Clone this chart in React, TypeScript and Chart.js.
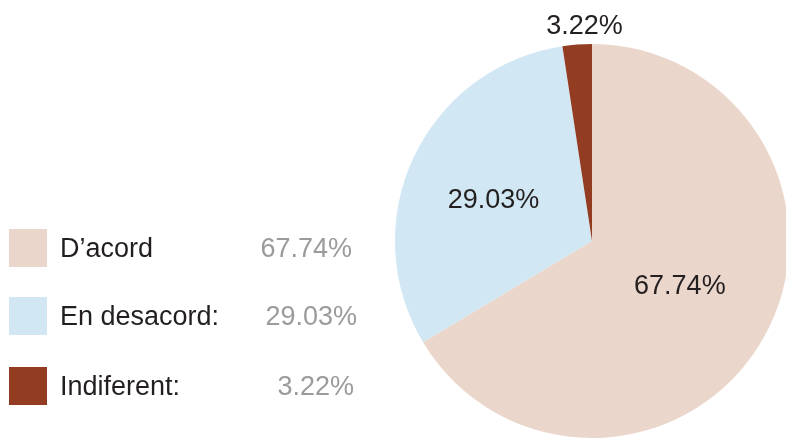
import React, { useEffect, useRef } from "react";
import { Chart, registerables } from "chart.js";

Chart.register(...registerables);

const categories = ["D\u2019acord", "En desacord:", "Indiferent:"];
const legendNames = ["D\u2019acord", "En desacord:", "Indiferent:"];
// slice sizes as drawn in the picture
const values = [66.4, 31.2, 2.4];
// labels as printed in the picture
const valueLabels = ["67.74%", "29.03%", "3.22%"];
const colors = ["#EBD6CC", "#D1E7F3", "#923C22"];

const FONT = "27px 'Liberation Sans', Arial, sans-serif";

const labelPlugin = {
  id: "customLabels",
  afterDraw(chart: any) {
    const ctx = chart.ctx;
    const meta = chart.getDatasetMeta(0);
    const nudge = [
      [-3, -6],
      [-4, 4],
      [0, 2],
    ];
    ctx.save();
    ctx.font = FONT;
    ctx.textAlign = "center";
    ctx.textBaseline = "middle";
    ctx.fillStyle = "#231F20";
    meta.data.forEach((arc: any, i: number) => {
      const { x, y, startAngle, endAngle, outerRadius } = arc.getProps(
        ["x", "y", "startAngle", "endAngle", "outerRadius"],
        true
      );
      const mid = (startAngle + endAngle) / 2;
      const frac = (endAngle - startAngle) / (Math.PI * 2);
      let lx: number, ly: number;
      if (frac < 0.08) {
        lx = x + Math.cos(mid) * outerRadius * 0.5;
        ly = y + Math.sin(mid) * (outerRadius + 20);
      } else {
        lx = x + Math.cos(mid) * outerRadius * 0.53;
        ly = y + Math.sin(mid) * outerRadius * 0.53;
      }
      ctx.fillText(valueLabels[i], lx + nudge[i][0], ly + nudge[i][1]);
    });

    // legend
    const rowCenters = [248, 316, 386];
    const valueRight = [352, 357, 354];
    const sq = 38;
    chart.data.labels.forEach((_: any, i: number) => {
      const cy = rowCenters[i];
      ctx.fillStyle = colors[i];
      ctx.fillRect(9, cy - sq / 2, sq, sq);
      ctx.textAlign = "left";
      ctx.fillStyle = "#231F20";
      ctx.fillText(legendNames[i], 60, cy + 2);
      ctx.textAlign = "right";
      ctx.fillStyle = "#9B9B9B";
      ctx.fillText(valueLabels[i], valueRight[i], cy + 2);
    });
    ctx.restore();
  },
};

export default function App() {
  const ref = useRef<HTMLCanvasElement>(null);
  useEffect(() => {
    if (!ref.current) return;
    const chart = new Chart(ref.current, {
      type: "pie",
      data: {
        labels: categories,
        datasets: [
          {
            data: values,
            backgroundColor: colors,
            borderWidth: 0,
          },
        ],
      },
      options: {
        responsive: false,
        animation: false,
        layout: { padding: { left: 395, right: 0, top: 44, bottom: 0 } },
        plugins: {
          legend: { display: false },
          tooltip: { enabled: false },
        },
      },
      plugins: [labelPlugin],
    });
    return () => chart.destroy();
  }, []);
  return (
    <div
      style={{
        position: "fixed",
        left: 0,
        top: 0,
        width: 786,
        height: 438,
        overflow: "hidden",
        background: "#fff",
      }}
    >
      <canvas ref={ref} width={789} height={438} style={{ width: 789, height: 438, display: "block" }} />
    </div>
  );
}
